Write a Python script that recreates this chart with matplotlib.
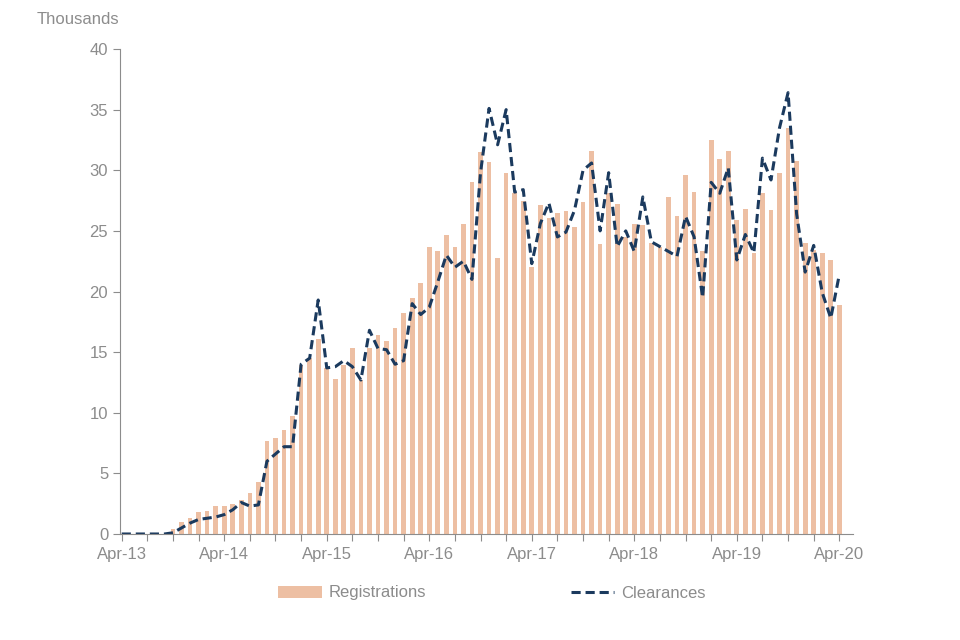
import matplotlib
matplotlib.use("Agg")
import matplotlib.pyplot as plt
import numpy as np

registrations = [0, 0, 0, 0, 0, 0, 0.4, 1.0, 1.3, 1.8, 1.9, 2.3, 2.3, 2.5, 2.8, 3.4, 4.3,
                 7.7, 7.9, 8.6, 9.7, 13.9, 14.5, 16.1, 13.7, 12.8, 13.9, 15.3, 12.7, 15.3,
                 16.4, 15.9, 17.0, 18.2, 19.5, 20.7, 23.7, 23.3, 24.7, 23.7, 25.6, 29.0,
                 31.5, 30.7, 22.8, 29.8, 28.1, 27.5, 22.0, 27.1, 26.1, 26.5, 26.6, 25.3,
                 27.4, 31.6, 23.9, 28.1, 27.2, 24.5, 25.6, 25.5, 24.0, 23.7, 27.8, 26.2,
                 29.6, 28.2, 23.3, 32.5, 30.9, 31.6, 25.9, 26.8, 23.2, 28.1, 26.7, 29.8,
                 33.5, 30.8, 24.0, 23.4, 23.2, 22.6, 18.9]
clearances = [0, 0, 0, 0, 0, 0, 0.1, 0.5, 0.9, 1.2, 1.3, 1.4, 1.6, 2.0, 2.6, 2.3, 2.4,
              6.0, 6.6, 7.2, 7.2, 14.0, 14.5, 19.3, 13.7, 13.8, 14.3, 13.8, 12.7, 16.8,
              15.3, 15.2, 14.0, 14.3, 19.0, 18.1, 18.7, 20.8, 23.0, 22.0, 22.5, 21.0,
              29.8, 35.1, 32.1, 35.0, 28.2, 28.4, 22.3, 25.6, 27.3, 24.5, 24.9, 26.7,
              30.0, 30.6, 25.0, 29.8, 23.7, 25.0, 23.3, 27.8, 24.1, 23.7, 23.3, 22.9,
              26.2, 24.5, 19.5, 29.0, 28.1, 30.2, 22.6, 24.7, 23.2, 31.0, 29.2, 33.5,
              36.4, 26.4, 21.6, 23.8, 19.9, 17.8, 21.4]
tick_labels = ["Apr-13", "Apr-14", "Apr-15", "Apr-16", "Apr-17", "Apr-18", "Apr-19", "Apr-20"]

plt.rcParams["font.family"] = "Liberation Sans"
gray = "#8c8c8c"
fig = plt.figure(figsize=(9.6, 6.4), dpi=100)
ax = fig.add_axes([120/960, 1-534/640, 733/960, 485/640])
x = np.arange(len(registrations))
bars = ax.bar(x, registrations, width=0.55, color="#EDBFA3", label="Registrations", zorder=1)
line, = ax.plot(x, clearances, color="#1B3A5E", lw=2.2, ls=(0, (3, 1.6)), label="Clearances", zorder=2)

ax.set_xlim(-0.2, 85.6)
ax.set_ylim(0, 40)
ax.set_yticks(range(0, 41, 5))
ax.set_xticks(np.arange(0, 85, 3))
ax.set_xticklabels([tick_labels[i // 12] if i % 12 == 0 else "" for i in range(0, 85, 3)])
ax.tick_params(axis="x", direction="out", length=5, color=gray, labelsize=12, labelcolor=gray, pad=4)
ax.tick_params(axis="y", direction="out", length=5, color=gray, labelsize=12, labelcolor=gray)
for s in ["top", "right"]:
    ax.spines[s].set_visible(False)
for s in ["left", "bottom"]:
    ax.spines[s].set_color(gray)
fig.text(37/960, 1-20/640, "Thousands", color=gray, fontsize=12, va="center")
fig.legend([bars, line], ["Registrations", "Clearances"], loc="center",
           bbox_to_anchor=(492/960, 1-593/640), ncol=2, frameon=False,
           fontsize=12, labelcolor=gray, columnspacing=8.7, handlelength=2.6,
           handletextpad=0.4)
fig.savefig("out.png", dpi=100)
